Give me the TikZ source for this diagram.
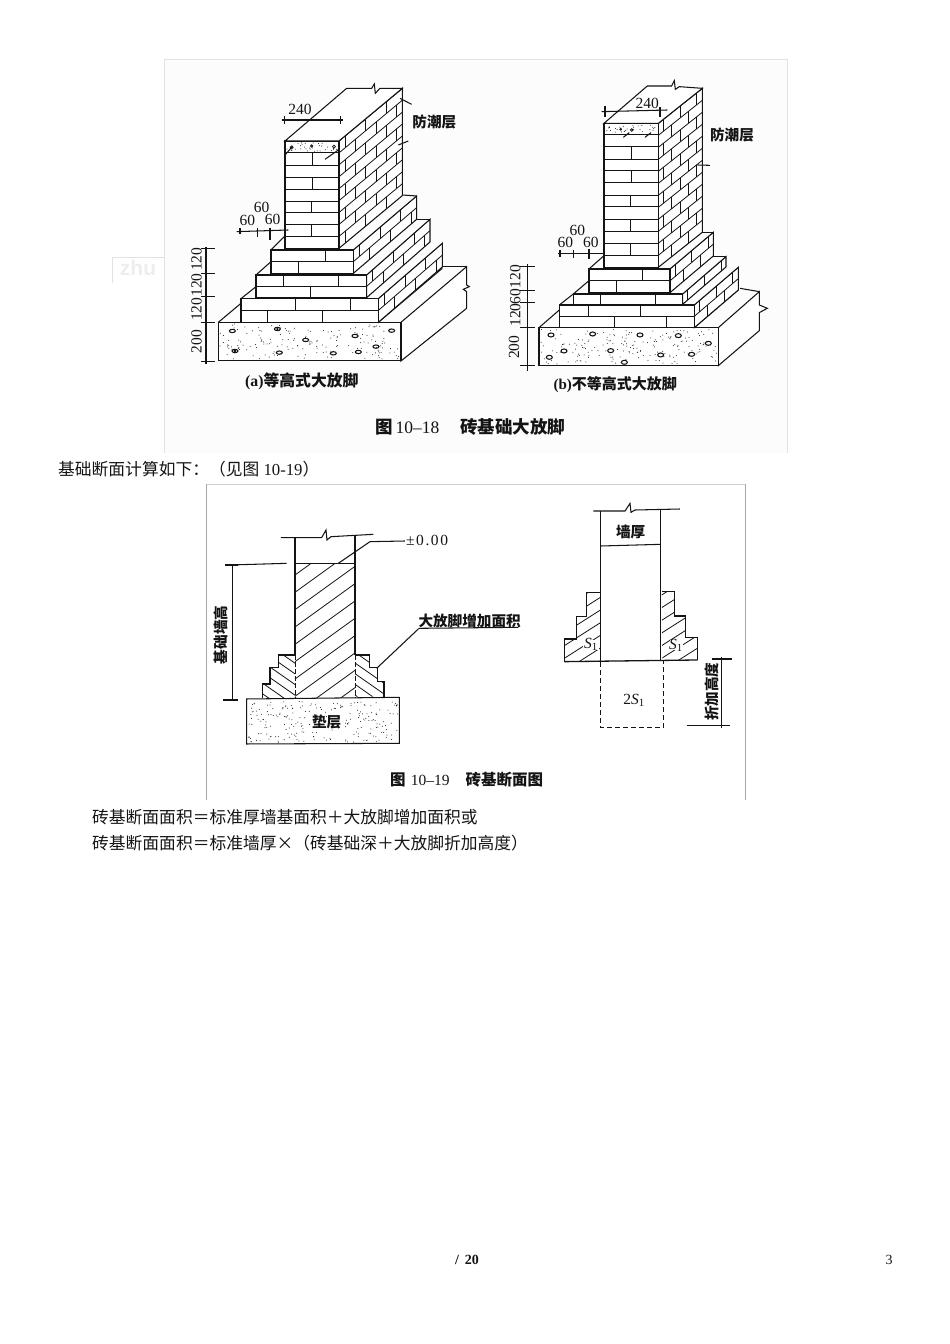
\documentclass[tikz,border=0pt]{standalone}
\usepackage{fontspec}
\setmainfont{Liberation Serif}
\newfontfamily\cjk{Noto Sans CJK SC}
\newfontfamily\sanswm{Liberation Sans}
\usetikzlibrary{calc}
\definecolor{ink}{HTML}{141414}
\definecolor{frameg}{HTML}{E2E2E2}
\tikzset{
  ln/.style={draw=ink,line width=1.05pt},
  thinln/.style={draw=ink,line width=0.8pt},
  fig/.style={inner sep=0pt,text=ink,font=\fontsize{14.6}{15}\selectfont\cjk\bfseries},
  num/.style={inner sep=0pt,text=ink,font=\fontsize{15.5}{16}\selectfont},
  body/.style={inner sep=0pt,anchor=west,text=ink,font=\fontsize{16.76}{17}\selectfont},
  zoomA/.style={shift={(#1)},x=0.3333pt,y=-0.3333pt}
}
\newcommand\Sone{{\itshape S}\textsubscript{\upshape 1}}
% front brick face: x1 x2 ytop ybot {course ys} {x/y1/y2 joints}
\newcommand\frontface[6]{%
  \fill[white] (#1,#3) rectangle (#2,#4);
  \foreach \yy in {#5} \draw[thinln] (#1,\yy) -- (#2,\yy);
  \foreach \jx/\ja/\jb in {#6} \draw[thinln] (\jx,\ja) -- (\jx,\jb);
  \draw[ln] (#1,#3) rectangle (#2,#4);
}
% side brick face: x0 ytop ybot dx dy n brick
\newcommand\sideface[7]{%
  \fill[white] (#1,#2) -- ++(#4,#5) -- ++(0,#3-#2) -- (#1,#3) -- cycle;
  \begin{scope}
    \clip (#1,#2) -- ++(#4,#5) -- ++(0,#3-#2) -- (#1,#3) -- cycle;
    \pgfmathsetmacro\hh{(#3-#2)/#6}
    \pgfmathtruncatemacro\nn{#6-1}
    \foreach \ci in {0,...,\nn}{
      \pgfmathsetmacro\yc{#2+\ci*\hh}
      \draw[thinln] (#1,\yc) -- ++(#4,#5);
      \pgfmathsetmacro\ph{mod(\ci,2)==0 ? 0.3 : 0.8}
      \foreach \bk in {0,...,5}{
        \pgfmathsetmacro\xj{(\ph+\bk)*#7}
        \pgfmathsetmacro\yj{\yc+\xj*((#5)/(#4))}
        \draw[thinln] ($(#1,\yj)+(\xj,0)$) -- ++(0,\hh);
      }
    }
  \end{scope}
  \draw[ln] (#1,#2) -- ++(#4,#5) -- ++(0,#3-#2) -- (#1,#3) -- cycle;
}
% stipple: x1 y1 x2 y2 n
\newcommand\stipple[5]{%
  \foreach \si in {1,...,#5}{
    \pgfmathsetmacro\px{#1+rnd*(#3-#1)}
    \pgfmathsetmacro\py{#2+rnd*(#4-#2)}
    \fill[ink] (\px,\py) circle[radius=0.5pt];
  }
}
\begin{document}
\begin{tikzpicture}[x=1pt,y=-1pt]
\useasboundingbox (0,0) rectangle (950,1344);
\pgfmathsetseed{1234}
\fill[white] (0,0) rectangle (950,1344);
% watermark and image frames
\draw[frameg,line width=0.8pt] (112,283) -- (112,257) -- (164,257);
\node[inner sep=0pt,text=black!7] (wm) at (138,268) {\sanswm\bfseries\fontsize{21}{21}\selectfont zhu};
\fill[black!1] (164,59) rectangle (787,453);
\draw[frameg,line width=0.7pt] (164,453) -- (164,59) -- (787,59) -- (787,453);
\draw[black!18,line width=0.7pt] (206,484) -- (745,484);
\draw[black!35,line width=0.7pt] (206,800) -- (206,484) (745,484) -- (745,800);

%================ FIG (a)
\begin{scope}[zoomA={190,60}]
  % pad
  \draw[ln,fill=white] (633,787) -- (830,620) -- (830,675) -- (838,680) -- (820,688) -- (830,695) -- (830,745) -- (633,903) -- cycle;
  \draw[ln] (757,620) -- (830,620);
  \draw[ln,fill=white] (85,787) rectangle (633,903);
  \stipple{90}{792}{628}{898}{170}
  \foreach \ax/\ay in {127/813,262/807,347/840,135/873,268/878,430/880,505/876,558/860,495/828,605/812}
    \draw[ln] (\ax,\ay) ellipse[x radius=9,y radius=5];
  \fill[ink] (135,873) circle[radius=1.5pt];
  \fill[ink] (262,807) circle[radius=1.3pt];
  \draw[ln] (85,787) -- (153,730);
  \draw[ln] (565,787) -- (757,625);
  % step 3
  \sideface{565}{716}{787}{192}{-166}{2}{62}
  \frontface{153}{565}{716}{787}{750}{317/716/750,480/716/750,233/750/787,398/750/787}
  \draw[ln] (198,680) -- (153,716);
  % step 2
  \sideface{530}{645}{713}{190}{-167}{2}{62}
  \frontface{198}{530}{645}{713}{680}{280/645/680,445/645/680,362/680/713}
  \draw[ln] (243,605) -- (198,645);
  \draw[ln] (675,478) -- (720,478);
  % step 1
  \sideface{490}{570}{640}{190}{-162}{2}{62}
  \frontface{243}{490}{570}{640}{605}{405/570/605,325/605/640}
  \draw[ln] (283,530) -- (243,570);
  \draw[ln] (637,405) -- (680,408);
  % wall
  \sideface{447}{243}{565}{190}{-158}{9}{62}
  \frontface{285}{447}{243}{565}{278,315,352,387,423,457,493,530}{367/278/315,367/352/387,365/423/457,365/493/530}
  \draw[ln,fill=white] (285,243) -- (470,85) -- (545,85) -- (553,72) -- (556,100) -- (570,85) -- (637,85) -- (447,243) -- cycle;
  \stipple{290}{248}{442}{274}{34}
  \draw[thinln] (305,262) circle[radius=1.5pt];
  \draw[thinln] (432,260) circle[radius=1.5pt];
  \draw[thinln] (365,258) circle[radius=1.2pt];
  % dpc leaders
  \draw[ln] (405,298) -- (445,270);
  \draw[ln] (285,285) -- (305,262);
  \draw[ln] (630,115) -- (665,133);
  \draw[ln] (625,255) -- (655,243);
  \node[fig] (a-dpc) at (733,185) {防潮层};
  % 240 dim
  \draw[ln] (275,180) -- (460,180);
  \draw[ln] (284,168) -- (284,192) (451,168) -- (451,192);
  \node[num] (a-240) at (330,147) {240};
  % 60 dims
  \draw[ln] (140,515) -- (295,510);
  \draw[ln] (150,505) -- (150,523) (203,503) -- (203,530) (240,503) -- (240,540);
  \node[num] (a-60a) at (215,442) {60};
  \node[num] (a-60b) at (172,482) {60};
  \node[num] (a-60c) at (248,478) {60};
  % vertical dims
  \draw[ln] (48,560) -- (48,912);
  \foreach \ty in {565,640,710,787,905}
    \draw[ln] (34,\ty) -- (75,\ty);
  \node[num,rotate=90] (a-v1) at (20,598) {120};
  \node[num,rotate=90] (a-v2) at (20,675) {120};
  \node[num,rotate=90] (a-v3) at (20,748) {120};
  \node[num,rotate=90] (a-v4) at (20,845) {200};
  \node[fig,anchor=west,font=\fontsize{15.8}{16}\selectfont\bfseries] (a-cap) at (165,963) {(a){\cjk 等高式大放脚}};
\end{scope}

%================ FIG (b)
\begin{scope}[zoomA={490,60}]
  \draw[ln,fill=white] (685,803) -- (808,695) -- (808,735) -- (832,745) -- (808,758) -- (808,812) -- (685,917) -- cycle;
  \draw[ln] (750,685) -- (808,695);
  \draw[ln,fill=white] (147,803) rectangle (685,917);
  \stipple{152}{808}{680}{912}{190}
  \foreach \ax/\ay in {183/825,308/822,450/825,565/827,655/850,222/873,362/872,512/885,605/883,403/907,178/892}
    \draw[ln] (\ax,\ay) ellipse[x radius=9,y radius=6];
  \draw[ln] (147,803) -- (208,750);
  \draw[ln] (613,803) -- (745,690);
  % step 3
  \sideface{613}{735}{803}{132}{-113}{2}{50}
  \frontface{208}{613}{735}{803}{768}{295/735/768,450/735/768,372/768/803,528/768/803}
  \draw[ln] (250,702) -- (208,735);
  % step 2
  \sideface{578}{702}{733}{130}{-112}{1}{50}
  \frontface{250}{578}{702}{733}{702}{332/702/733,495/702/733}
  \draw[ln] (297,662) -- (250,702);
  \draw[ln] (670,590) -- (708,590);
  % step 1
  \sideface{540}{627}{698}{130}{-110}{2}{50}
  \frontface{297}{540}{627}{698}{662}{457/627/662,380/662/698}
  \draw[ln] (342,587) -- (297,627);
  \draw[ln] (637,517) -- (670,517);
  % wall
  \sideface{505}{190}{622}{132}{-105}{12}{50}
  \frontface{342}{505}{190}{622}{222,260,297,332,368,405,440,477,513,550,587}{425/260/297,425/332/368,420/405/440,420/477/513,420/550/587}
  \draw[ln,fill=white] (342,190) -- (472,78) -- (545,78) -- (553,62) -- (556,88) -- (568,80) -- (637,85) -- (505,190) -- cycle;
  \stipple{347}{195}{500}{218}{30}
  \fill[ink] (392,208) circle[radius=1.4pt];
  \draw[thinln] (425,210) circle[radius=1.3pt];
  % dpc leaders
  \draw[ln] (400,232) -- (418,218);
  \draw[ln] (465,232) -- (483,218);
  \draw[ln] (622,315) -- (660,316);
  \node[fig] (b-dpc) at (726,225) {防潮层};
  % 240
  \draw[ln] (335,155) -- (532,150);
  \draw[ln] (345,138) -- (345,170) (510,142) -- (510,172);
  \node[num] (b-240) at (472,130) {240};
  % 60
  \draw[ln] (205,580) -- (345,580);
  \draw[ln] (210,570) -- (210,590) (250,570) -- (250,595) (297,568) -- (297,597);
  \node[num] (b-60a) at (262,512) {60};
  \node[num] (b-60b) at (226,548) {60};
  \node[num] (b-60c) at (303,548) {60};
  % vertical
  \draw[ln] (112,612) -- (112,932);
  \foreach \ty in {620,692,728,802,917}
    \draw[ln] (90,\ty) -- (135,\ty);
  \node[num,rotate=90] (b-v1) at (76,650) {120};
  \node[num,rotate=90] (b-v2) at (76,711) {60};
  \node[num,rotate=90] (b-v3) at (76,765) {120};
  \node[num,rotate=90] (b-v4) at (72,862) {200};
  \node[fig,anchor=west,font=\fontsize{15}{16}\selectfont\bfseries] (b-cap) at (190,973) {(b){\cjk 不等高式大放脚}};
\end{scope}

\node[num,anchor=west,font=\fontsize{17.5}{18}\selectfont] (cap18) at (375,426.5) {{\cjk\bfseries 图}\,10--18\hspace{21pt}{\cjk\bfseries 砖基础大放脚}};

%================ body text
\node[body] (t1) at (58,469.5) {{\cjk 基础断面计算如下：（见图} 10-19{\cjk ）}};
\node[body] (t2) at (92,817) {{\cjk 砖基断面面积＝标准厚墙基面积＋大放脚增加面积或}};
\node[body] (t3) at (92,843) {{\cjk 砖基断面面积＝标准墙厚×（砖基础深＋大放脚折加高度）}};
\node[inner sep=0pt,font=\fontsize{14}{14}\selectfont\bfseries,text=ink] (foot) at (467,1259.5) {/\hspace{6pt}20};
\node[inner sep=0pt,font=\fontsize{14}{14}\selectfont,text=ink] (page) at (889,1259.5) {3};

%================ FIG 10-19 left
\begin{scope}[zoomA={205,485}]
  \draw[ln] (228,158) -- (350,158) -- (363,135) -- (366,165) -- (378,155) -- (505,148);
  \draw[ln] (270,158) -- (270,510) (450,150) -- (450,510);
  \begin{scope}
    \clip (270,235) rectangle (450,640);
    \foreach \c in {270,322,...,830}
      \draw[thinln] (270,\c) -- ++(180,-130);
  \end{scope}
  \draw[ln,line width=1.3pt] (270,235) -- (450,235);
  \draw[ln] (75,240) -- (245,235);
  \draw[ln] (400,235) -- (495,170) -- (600,168);
  \node[num,anchor=west,font=\fontsize{15.5}{16}\selectfont\addfontfeatures{LetterSpace=10}] (pm) at (603,167) {±0.00};
  % left steps
  \begin{scope}
    \clip (270,510) -- (220,510) -- (220,548) -- (195,548) -- (195,597) -- (172,597) -- (172,640) -- (270,640) -- cycle;
    \foreach \c in {370,402,...,650}
      \draw[thinln] (172,\c) -- ++(100,70);
  \end{scope}
  \draw[ln] (270,510) -- (220,510) -- (220,548) -- (195,548) -- (195,597) -- (172,597) -- (172,640);
  \begin{scope}
    \clip (450,510) -- (493,510) -- (493,548) -- (518,548) -- (518,590) -- (537,590) -- (537,635) -- (450,635) -- cycle;
    \foreach \c in {470,502,...,660}
      \draw[thinln] (450,\c) -- ++(100,70);
  \end{scope}
  \draw[ln] (450,510) -- (493,510) -- (493,548) -- (518,548) -- (518,590) -- (537,590) -- (537,635);
  \draw[thinln,dash pattern=on 5pt off 2pt] (270,510) -- (270,640) (450,510) -- (450,640);
  % pad
  \draw[ln,fill=white] (125,642) -- (583,637) -- (583,775) -- (125,777) -- cycle;
  \stipple{130}{647}{578}{772}{230}
  \fill[white] (320,695) rectangle (410,732);
  \node[fig] (pad) at (365,712) {垫层};
  % dim
  \draw[ln] (83,238) -- (83,648);
  \draw[ln] (60,240) -- (100,240) (55,645) -- (100,645);
  \node[fig,rotate=90] (jiq) at (47,450) {基础墙高};
  \node[fig,anchor=west] (add) at (640,407) {大放脚增加面积};
  \draw[ln] (640,430) -- (940,427);
  \draw[ln] (640,432) -- (515,550);
\end{scope}
\node[num,anchor=west,font=\fontsize{15.5}{16}\selectfont] (cap19) at (390,780) {{\cjk\bfseries 图}\,\,10--19\hspace{16pt}{\cjk\bfseries 砖基断面图}};

%================ FIG 10-19 right
\begin{scope}[zoomA={530,485}]
  \draw[ln] (190,78) -- (285,78) -- (300,55) -- (303,82) -- (315,75) -- (450,72);
  \draw[ln] (212,78) -- (212,530) (392,75) -- (392,525);
  \draw[ln] (212,183) -- (392,178);
  \node[fig] (qh) at (302,140) {墙厚};
  \begin{scope}
    \clip (212,323) -- (170,323) -- (170,395) -- (140,395) -- (140,462) -- (103,462) -- (103,530) -- (212,530) -- cycle;
    \foreach \c in {330,368,...,680}
      \draw[thinln] (103,\c) -- ++(110,-70);
  \end{scope}
  \draw[ln] (212,323) -- (170,323) -- (170,395) -- (140,395) -- (140,462) -- (103,462) -- (103,530);
  \begin{scope}
    \clip (395,320) -- (433,320) -- (433,393) -- (467,393) -- (467,457) -- (503,457) -- (503,525) -- (397,525) -- cycle;
    \foreach \c in {330,368,...,640}
      \draw[thinln] (395,\c) -- ++(110,-70);
  \end{scope}
  \draw[ln] (395,320) -- (433,320) -- (433,393) -- (467,393) -- (467,457) -- (503,457) -- (503,525);
  \draw[ln,line width=1.3pt] (103,530) -- (503,525);
  \fill[white] (160,464) rectangle (206,494);
  \fill[white] (420,464) rectangle (460,496);
  \node[num] (s1l) at (183,478) {\Sone};
  \node[num] (s1r) at (438,480) {\Sone};
  \draw[ln,dash pattern=on 5pt off 3pt] (212,530) -- (212,727) -- (400,727) -- (400,527);
  \node[num] (s2) at (312,645) {2\Sone};
  \draw[ln] (575,515) -- (575,728);
  \draw[ln] (545,522) -- (605,522);
  \draw[ln] (470,722) -- (600,722);
  \node[fig,rotate=90] (zh) at (547,620) {折加高度};
\end{scope}
\end{tikzpicture}
\end{document}
